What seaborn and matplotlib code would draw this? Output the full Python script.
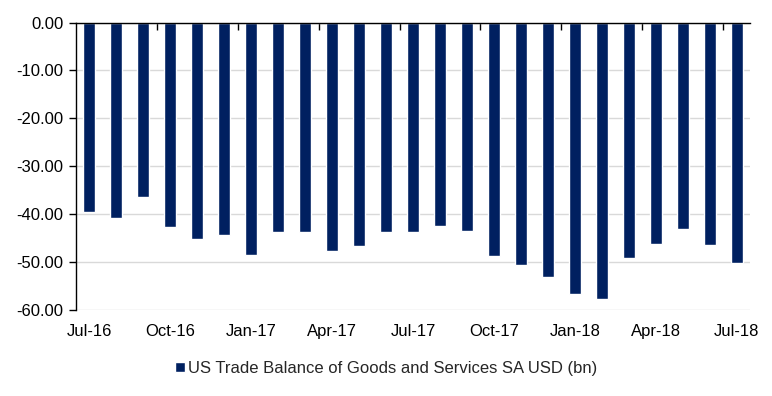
import matplotlib
matplotlib.use("Agg")
import matplotlib.pyplot as plt
import seaborn as sns
import pandas as pd
from matplotlib.ticker import FixedLocator, FuncFormatter

months = ["Jul-16", "Aug-16", "Sep-16", "Oct-16", "Nov-16", "Dec-16",
          "Jan-17", "Feb-17", "Mar-17", "Apr-17", "May-17", "Jun-17",
          "Jul-17", "Aug-17", "Sep-17", "Oct-17", "Nov-17", "Dec-17",
          "Jan-18", "Feb-18", "Mar-18", "Apr-18", "May-18", "Jun-18", "Jul-18"]
balance = [-39.55, -40.8, -36.4, -42.7, -45.2, -44.4,
           -48.5, -43.7, -43.7, -47.7, -46.7, -43.7,
           -43.7, -42.5, -43.5, -48.8, -50.7, -53.1,
           -56.7, -57.7, -49.2, -46.3, -43.1, -46.4, -50.2]
series_name = "US Trade Balance of Goods and Services SA USD (bn)"
yticks = [0, -10, -20, -30, -40, -50, -60]

sns.set_theme(style="white")
plt.rcParams["font.family"] = ["Liberation Sans", "DejaVu Sans"]

df = pd.DataFrame({"Month": months, "Value": balance, "Series": series_name})

fig = plt.figure(figsize=(7.72, 3.96), dpi=100)
ax = fig.add_axes([0.098, 0.218, 0.874, 0.725])

sns.barplot(data=df, x="Month", y="Value", hue="Series", palette=["#002060"],
            width=0.44, ax=ax, saturation=1, legend=True)

ax.set_xlim(-0.5, len(months) - 0.5)
ax.set_ylim(-60, 0)
ax.set_yticks(yticks)
ax.yaxis.set_major_formatter(FuncFormatter(lambda v, p: f"{v:.2f}"))
ax.yaxis.grid(True, color="#d9d9d9", linewidth=1)
ax.set_axisbelow(True)

label_pos = list(range(0, len(months), 3))
ax.set_xticks(label_pos)
ax.set_xticklabels([months[i] for i in label_pos])
ax.xaxis.set_minor_locator(FixedLocator([i + 2.5 for i in range(0, len(months) - 1, 3)]))
ax.tick_params(axis="x", which="major", length=0, labelsize=12, colors="black", pad=10)
ax.tick_params(axis="x", which="minor", top=True, bottom=False, direction="in", length=5, width=1, color="black")
ax.tick_params(axis="y", which="major", left=True, length=5, width=1, color="black", labelsize=12, labelcolor="black", pad=4)

ax.set_xlabel("")
ax.set_ylabel("")
for s in ["right", "bottom"]:
    ax.spines[s].set_visible(False)
ax.spines["top"].set_color("black")
ax.spines["left"].set_color("black")
ax.spines["top"].set_linewidth(1)
ax.spines["left"].set_linewidth(1)

handles, labels = ax.get_legend_handles_labels()
ax.legend_.remove()
fig.legend(handles, labels, loc="center", bbox_to_anchor=(0.5, 0.07), frameon=False,
           fontsize=12, handlelength=0.6, handleheight=0.6, handletextpad=0.2)

fig.savefig("out.png", dpi=100)
